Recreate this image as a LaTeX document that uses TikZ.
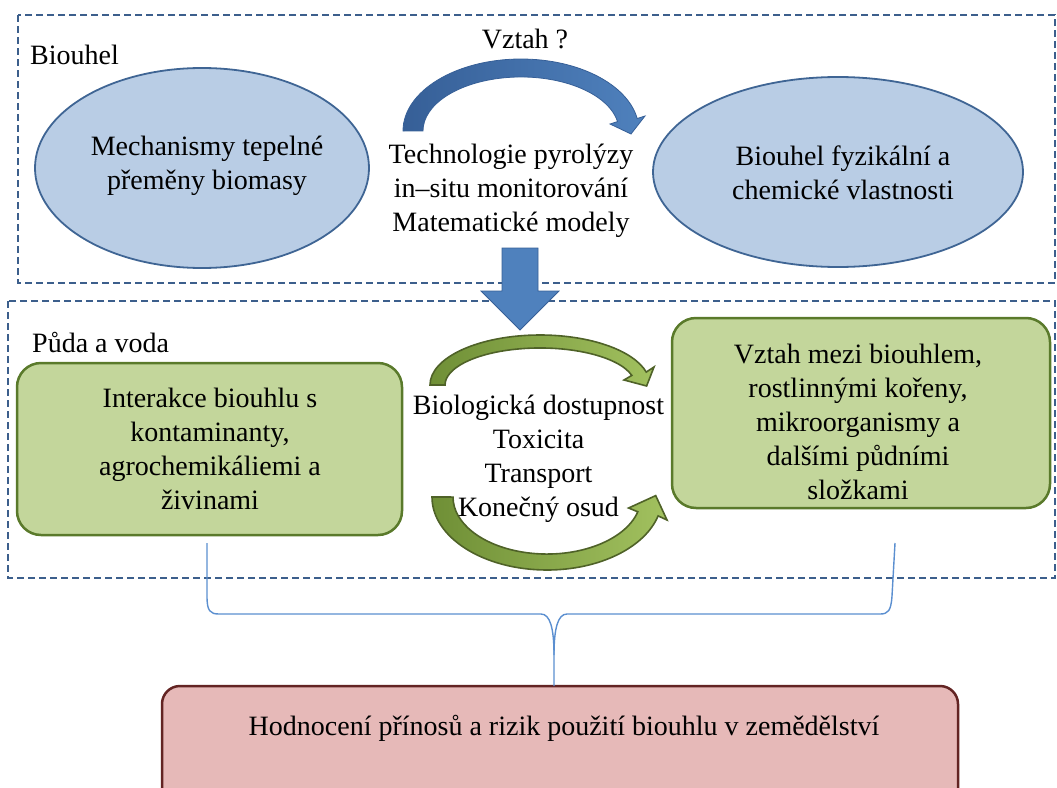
\documentclass[tikz,border=0pt]{standalone}
\usepackage{fontspec}
\setmainfont{Liberation Serif}
\usetikzlibrary{shapes.geometric}
\definecolor{dashblue}{HTML}{3C5F8C}
\definecolor{ellfill}{HTML}{B9CDE5}
\definecolor{elldraw}{HTML}{3F6594}
\definecolor{grfill}{HTML}{C3D69B}
\definecolor{grdraw}{HTML}{5A7A2B}
\definecolor{redfill}{HTML}{E6B9B8}
\definecolor{reddraw}{HTML}{632423}
\definecolor{arrblue}{HTML}{4F81BD}
\definecolor{arrbluedark}{HTML}{365F97}
\definecolor{arrgreen}{HTML}{A2C15F}
\definecolor{arrgreendark}{HTML}{6F8F36}
\definecolor{arrgreendraw}{HTML}{4F6228}
\definecolor{bracecol}{HTML}{5B8FD0}
\tikzset{
  txt/.style={font=\fontsize{28}{34}\selectfont, align=center, inner sep=0pt},
  dashbox/.style={draw=dashblue, line width=2.8pt, dash pattern=on 7pt off 4pt},
  ellnode/.style={ellipse, draw=elldraw, line width=1.8pt, fill=ellfill, inner sep=0pt},
  greenbox/.style={rectangle, rounded corners=24pt, draw=grdraw, line width=2.5pt, fill=grfill, inner sep=0pt},
  redbox/.style={rectangle, rounded corners=18pt, draw=reddraw, line width=2.5pt, fill=redfill, inner sep=0pt},
  bluearrow/.style={draw=arrbluedark, line width=0.8pt, left color=arrbluedark, right color=arrblue},
  greenarrow/.style={draw=arrgreendraw, line width=1.6pt, left color=arrgreendark, right color=arrgreen},
  bracestyle/.style={draw=bracecol, line width=1.4pt}
}
\begin{document}
\begin{tikzpicture}[x=1pt,y=-1pt]
\useasboundingbox (0,0) rectangle (1057,787);

% dashed frames
\draw[dashbox] (18,15) rectangle (1055,283);
\draw[dashbox] (8,301) rectangle (1055,578);

% labels
\node[txt, anchor=base west] (lblbio) at (30,64) {Biouhel};
\node[txt, anchor=base west] (lblsoil) at (32,352) {Půda a voda};
\node[txt, anchor=base] (vztah) at (525,48) {Vztah ?};

% ellipses
\node[ellnode, minimum width=334pt, minimum height=200pt] (mech) at (202,168) {};
\node[txt] (mechtxt) at (207,166) {Mechanismy tepelné\\přeměny biomasy};
\node[ellnode, minimum width=370pt, minimum height=190pt] (props) at (838,172) {};
\node[txt] (propstxt) at (843,173) {Biouhel fyzikální a\\chemické vlastnosti};

% curved blue arrow
\path[bluearrow] (403,131) arc[start angle=180, end angle=350, x radius=118, y radius=72]
  -- (645,116) -- (631,134) -- (610,124) -- (617.5,121.6)
  arc[start angle=350, end angle=180, x radius=98, y radius=54] -- cycle;

% middle text (top)
\node[txt] (tech) at (511,191) {Technologie pyrolýzy\\in–situ monitorování\\Matematické modely};

% big down arrow
\path[draw=arrbluedark, line width=0.8pt, fill=arrblue]
  (502,248) -- (538,248) -- (538,291) -- (559,291) -- (520,330) -- (481,291) -- (502,291) -- cycle;

% green boxes
\node[greenbox, minimum width=385pt, minimum height=172pt] (lbox) at (209.5,449) {};
\node[txt] (ltxt) at (210,449) {Interakce biouhlu s\\kontaminanty,\\agrochemikáliemi a\\živinami};
\node[greenbox, minimum width=378pt, minimum height=190pt] (rbox) at (861,413) {};
\node[txt] (rtxt) at (858,422) {Vztah mezi biouhlem,\\rostlinnými kořeny,\\mikroorganismy a\\dalšími půdními\\složkami};

% green curved arrows
\path[greenarrow] (430,385) arc[start angle=180, end angle=345, x radius=110, y radius=50]
  -- (654,367) -- (646.6,386) -- (624,380) -- (631.8,375.4)
  arc[start angle=345, end angle=180, x radius=95, y radius=37] -- cycle;
\path[greenarrow] (432,497) arc[start angle=180, end angle=15, x radius=115, y radius=73]
  -- (667,520) -- (655.7,495.6) -- (628.6,508) -- (637.8,511.8)
  arc[start angle=15, end angle=180, x radius=94, y radius=57] -- cycle;

\node[txt] (bio) at (538.5,459) {Biologická dostupnost\\Toxicita\\Transport\\Konečný osud};

% red box
\node[redbox, minimum width=796pt, minimum height=130pt] (risk) at (560,751) {};
\node[txt] (risktxt) at (564,728) {Hodnocení přínosů a rizik použití biouhlu v zemědělství};

% brace
\coordinate (braceL) at (207,543);
\coordinate (braceR) at (895,543);
\coordinate (braceTip) at (554,686);
\draw[bracestyle] (braceL) -- (207,596) .. controls (207,611) and (210,614) .. (219,614)
  -- (541,614) .. controls (550,614) and (554,628) .. (554,655) -- (braceTip);
\draw[bracestyle] (braceR) -- (892,596) .. controls (891,611) and (888,614) .. (880,614)
  -- (567,614) .. controls (558,614) and (554,628) .. (554,655);
\end{tikzpicture}
\end{document}
